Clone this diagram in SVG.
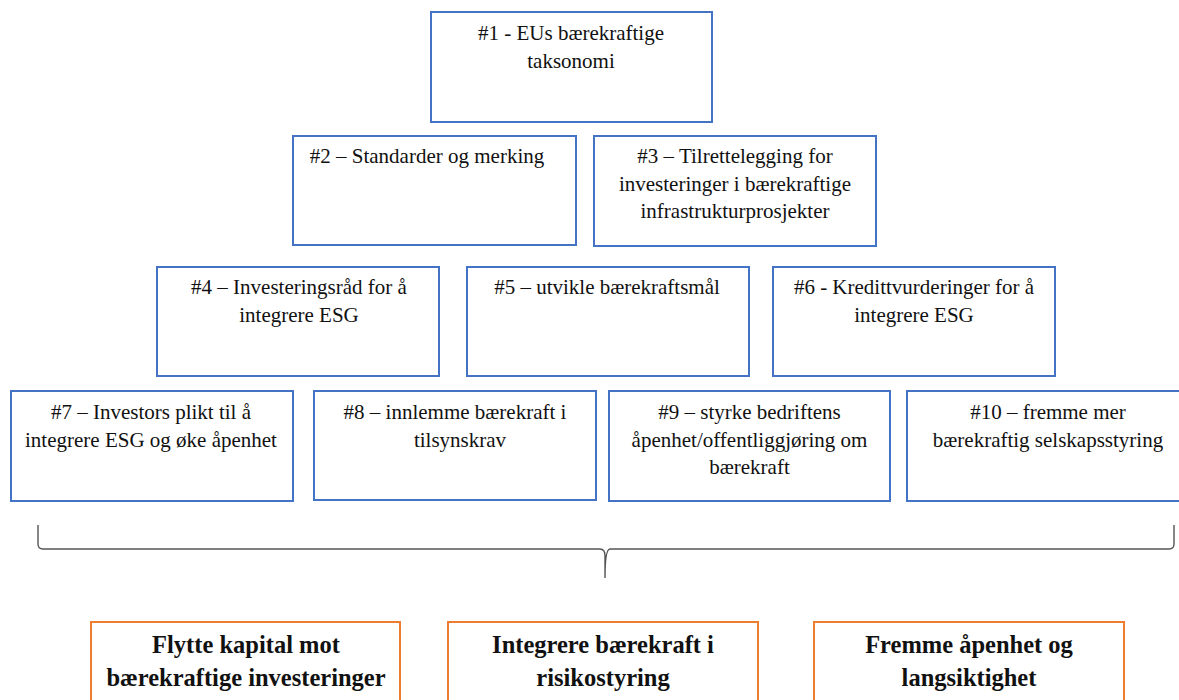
<svg xmlns="http://www.w3.org/2000/svg" width="1179" height="700" viewBox="0 0 1179 700">
<style>
.b{fill:#fff;stroke:#4472C4;stroke-width:2}
.o{fill:#fff;stroke:#ED7D31;stroke-width:2}
.t{font-family:"Liberation Serif","Times New Roman",serif;font-size:21px;fill:#111;text-anchor:middle}
.tb{font-family:"Liberation Serif","Times New Roman",serif;font-size:24.5px;font-weight:bold;fill:#111;text-anchor:middle}
.br{fill:none;stroke:#555;stroke-width:1.4}
</style>
<rect width="1179" height="700" fill="#fff"/>
<g id="n1"><rect class="b" x="431" y="12" width="281" height="110"/><text class="t" x="571" y="40">#1 - EUs bærekraftige</text><text class="t" x="571" y="68">taksonomi</text></g>
<g id="n2"><rect class="b" x="293" y="136" width="283" height="109"/><text class="t" x="427" y="163">#2 – Standarder og merking</text></g>
<g id="n3"><rect class="b" x="594" y="136" width="282" height="110"/><text class="t" x="735" y="163">#3 – Tilrettelegging for</text><text class="t" x="735" y="191">investeringer i bærekraftige</text><text class="t" x="735" y="218">infrastrukturprosjekter</text></g>
<g id="n4"><rect class="b" x="157" y="267" width="282" height="109"/><text class="t" x="299" y="294">#4 – Investeringsråd for å</text><text class="t" x="299" y="322">integrere ESG</text></g>
<g id="n5"><rect class="b" x="467" y="267" width="282" height="109"/><text class="t" x="607" y="294">#5 – utvikle bærekraftsmål</text></g>
<g id="n6"><rect class="b" x="773" y="267" width="282" height="109"/><text class="t" x="914" y="294">#6 - Kredittvurderinger for å</text><text class="t" x="914" y="322">integrere ESG</text></g>
<g id="n7"><rect class="b" x="11" y="391" width="282" height="110"/><text class="t" x="151" y="419">#7 – Investors plikt til å</text><text class="t" x="151" y="447">integrere ESG og øke åpenhet</text></g>
<g id="n8"><rect class="b" x="314" y="391" width="282" height="109"/><text class="t" x="455" y="419">#8 – innlemme bærekraft i</text><text class="t" x="460" y="447">tilsynskrav</text></g>
<g id="n9"><rect class="b" x="609" y="391" width="281" height="110"/><text class="t" x="749.5" y="419">#9 – styrke bedriftens</text><text class="t" x="749.5" y="447">åpenhet/offentliggjøring om</text><text class="t" x="749.5" y="474">bærekraft</text></g>
<g id="n10"><rect class="b" x="907" y="391" width="282" height="110"/><text class="t" x="1048" y="419">#10 – fremme mer</text><text class="t" x="1048" y="447">bærekraftig selskapsstyring</text></g>
<g id="connectors"><path class="br" d="M38 525 V544 Q38 549 43 549 H600 Q605 549 605 556 V578 Q605 549 610 549 H1169 Q1174 549 1174 544 V525"/></g>
<g id="g1"><rect class="o" x="91" y="622" width="309" height="90"/><text class="tb" x="246" y="653">Flytte kapital mot</text><text class="tb" x="246" y="686">bærekraftige investeringer</text></g>
<g id="g2"><rect class="o" x="448" y="622" width="310" height="90"/><text class="tb" x="603" y="653">Integrere bærekraft i</text><text class="tb" x="603" y="686">risikostyring</text></g>
<g id="g3"><rect class="o" x="814" y="622" width="310" height="90"/><text class="tb" x="969" y="653">Fremme åpenhet og</text><text class="tb" x="969" y="686">langsiktighet</text></g>
</svg>
